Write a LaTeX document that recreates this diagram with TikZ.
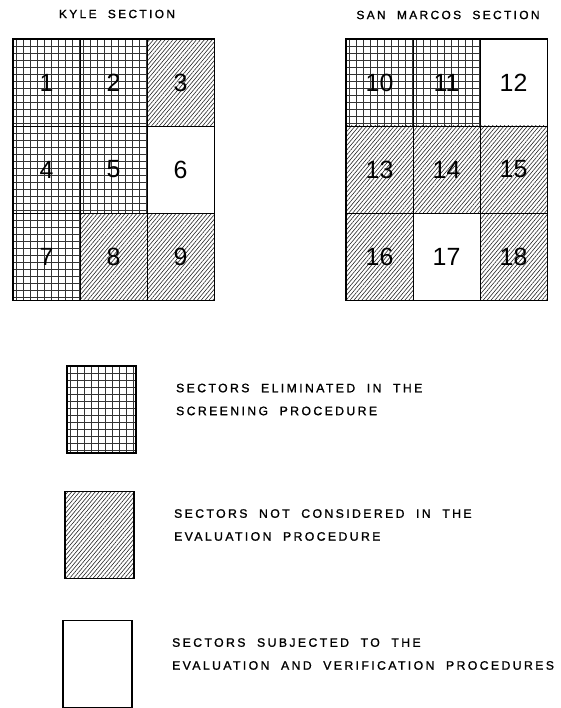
\documentclass[tikz,border=0pt]{standalone}
\usepackage{fontspec}
\setmainfont{Liberation Sans}
\newfontfamily\spacedfont[LetterSpace=19.5,FakeBold=1.2]{Liberation Sans}
\usetikzlibrary{positioning,patterns.meta}

\tikzset{
  cell/.style={draw,line width=.8bp,minimum width=67bp,minimum height=87bp,inner sep=0pt,font=\fontsize{25}{25}\selectfont},
  gridln/.style={draw=black!80,line width=.9bp},
  elim/.style={path picture={
    \foreach \i in {0,...,12} {
      \draw[gridln] ([xshift=\i*7bp+3bp]path picture bounding box.south west) -- ([xshift=\i*7bp+3bp]path picture bounding box.north west);
      \draw[gridln] ([yshift=\i*7bp+3bp]path picture bounding box.south west) -- ([yshift=\i*7bp+3bp]path picture bounding box.south east);}}},
  notcons/.style={pattern={Lines[angle=50,distance=3bp,line width=.6bp]},pattern color=black!85},
  evalsec/.style={},
  legbox/.style={draw,line width=1.2bp,minimum width=69bp,minimum height=87bp,inner sep=0pt},
  legtxt/.style={align=left,font=\spacedfont\fontsize{12.3}{23}\selectfont},
  ttl/.style={font=\spacedfont\fontsize{12}{13}\selectfont}
}

\begin{document}
\begin{tikzpicture}[x=1bp,y=-1bp]
\useasboundingbox (0,0) rectangle (561,708);
% Kyle section
\node[ttl] (kyle) at (117,14) {KYLE\ \ SECTION};
\foreach \n/\c/\r/\p in {1/0/0/elim,2/1/0/elim,3/2/0/notcons,4/0/1/elim,5/1/1/elim,6/2/1/evalsec,7/0/2/elim,8/1/2/notcons,9/2/2/notcons}
  \node[cell,\p] (k\n) at (46.5+67*\c,82.5+87*\r) {\n};
\draw[line width=1.5bp] (k1.north west) rectangle (k9.south east);
% San Marcos section
\node[ttl] (sanm) at (448,15) {SAN\ \ MARCOS\ \ SECTION};
\foreach \n/\c/\r/\p in {10/0/0/elim,11/1/0/elim,12/2/0/evalsec,13/0/1/notcons,14/1/1/notcons,15/2/1/notcons,16/0/2/notcons,17/1/2/evalsec,18/2/2/notcons}
  \node[cell,\p] (s\n) at (379.5+67*\c,82.5+87*\r) {\n};
\draw[line width=1.5bp] (s10.north west) rectangle (s18.south east);
% legend
\node[legbox,elim] (lg1) at (101.5,409.5) {};
\node[legbox,notcons] (lg2) at (99.5,535) {};
\node[legbox,evalsec] (lg3) at (97.5,664) {};
\node[legtxt,right=36bp of lg1,yshift=10bp] (t1) {SECTORS\ \ ELIMINATED\ \ IN\ \ THE\\SCREENING\ \ PROCEDURE};
\node[legtxt,right=36bp of lg2,yshift=10bp] (t2) {SECTORS\ \ NOT\ \ CONSIDERED\ \ IN\ \ THE\\EVALUATION\ \ PROCEDURE};
\node[legtxt,right=36bp of lg3,yshift=10bp] (t3) {SECTORS\ \ SUBJECTED\ \ TO\ \ THE\\EVALUATION\ \ AND\ \ VERIFICATION\ \ PROCEDURES};
\end{tikzpicture}
\end{document}
